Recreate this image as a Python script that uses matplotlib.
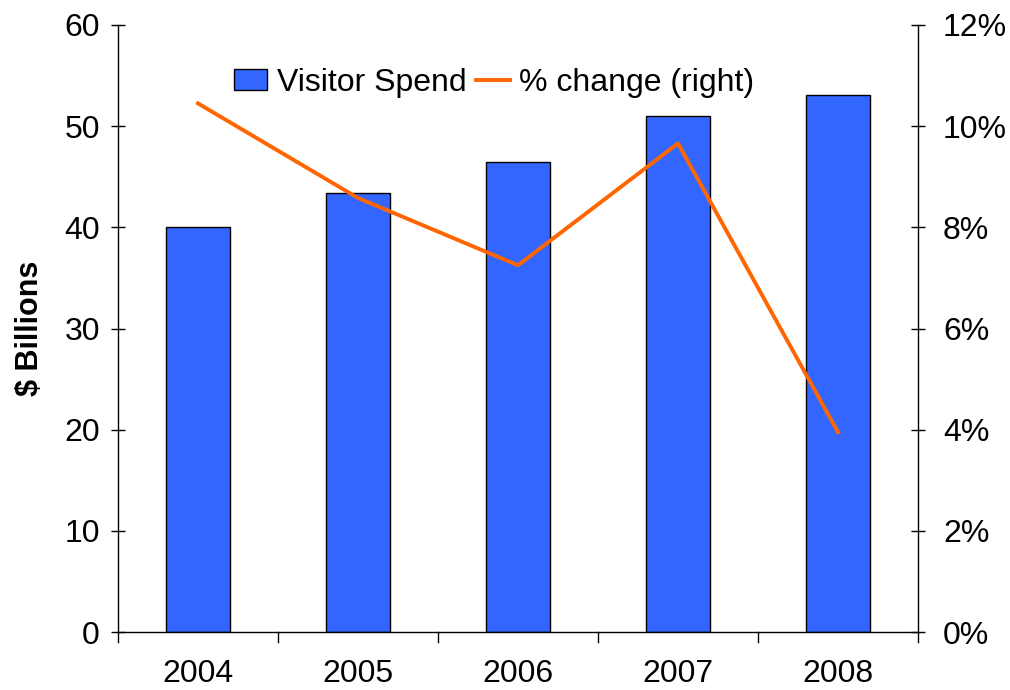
import numpy as np
import matplotlib.pyplot as plt
from matplotlib.ticker import FuncFormatter

plt.rcParams['font.family'] = ['Liberation Sans', 'DejaVu Sans']
plt.rcParams['font.size'] = 23

years = ['2004', '2005', '2006', '2007', '2008']
visitor_spend = [40.0, 43.4, 46.5, 51.0, 53.1]   # $ billions
pct_change = [10.45, 8.58, 7.25, 9.66, 3.95]      # % change

fig = plt.figure(figsize=(10.1, 6.9), dpi=100)
ax = fig.add_axes([118 / 1010, 1 - 632 / 690, 800 / 1010, 607 / 690])
x = np.arange(len(years))

bars = ax.bar(x, visitor_spend, width=0.4, color='#3366FF', edgecolor='black',
              linewidth=1, label='Visitor Spend', zorder=2)
ax.set_xlim(-0.5, len(years) - 0.5)
ax.set_ylim(0, 60)
ax.set_yticks(range(0, 61, 10))
ax.set_xticks(x)
ax.set_xticklabels(years)
ax.tick_params(axis='x', length=0, pad=19.5)
# category boundary ticks
for b in np.arange(-0.5, len(years), 1.0):
    ax.plot([b, b], [0, -1.0], color='black', lw=1, clip_on=False)
ax.tick_params(axis='y', direction='inout', length=10, width=1, pad=8)
ax.set_ylabel('$ Billions', fontweight='bold', fontsize=22, labelpad=14)
ax.spines['top'].set_visible(False)
ax.spines['right'].set_visible(False)
for s in ['left', 'bottom']:
    ax.spines[s].set_linewidth(1)

ax2 = ax.twinx()
line, = ax2.plot(x, pct_change, color='#FF6600', lw=2.8, label='% change (right)')
ax2.set_ylim(0, 12)
ax2.set_yticks(range(0, 13, 2))
ax2.yaxis.set_major_formatter(FuncFormatter(lambda v, p: f'{v:.0f}%'))
ax2.tick_params(axis='y', direction='inout', length=10, width=1, pad=13)
ax2.spines['top'].set_visible(False)
ax2.spines['left'].set_visible(False)
ax2.spines['bottom'].set_visible(False)
ax2.spines['right'].set_linewidth(1)

ax.legend([bars, line], ['Visitor Spend', '% change (right)'], loc='center',
          bbox_to_anchor=(0.47, 0.905), ncol=2, frameon=False, handlelength=1.05,
          handleheight=0.65, handletextpad=0.3, columnspacing=0.3, fontsize=23,
          borderpad=0, borderaxespad=0)

fig.savefig('out.png', dpi=100)
